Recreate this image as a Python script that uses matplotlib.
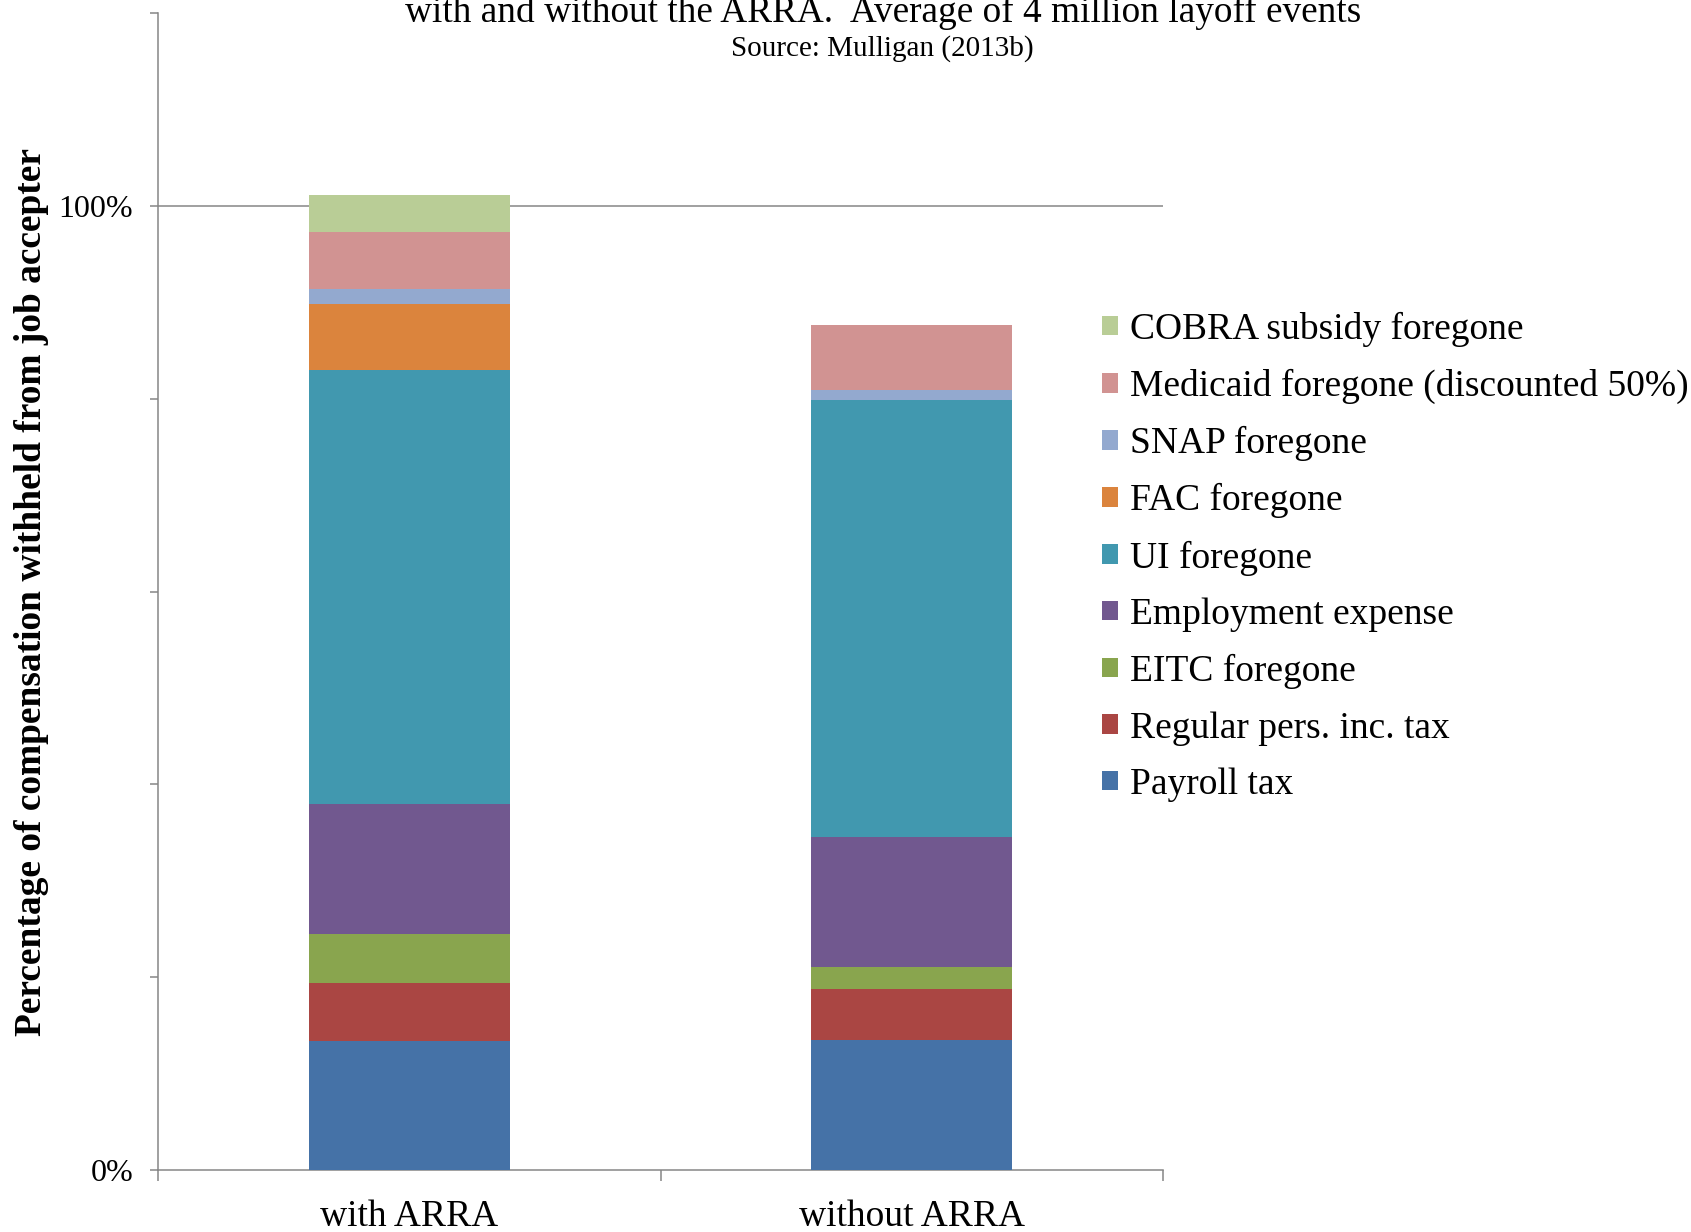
import matplotlib
matplotlib.use("Agg")
import matplotlib.pyplot as plt
from matplotlib.patches import Patch

plt.rcParams['font.family'] = ['Liberation Serif', 'DejaVu Serif']

categories = ["with ARRA", "without ARRA"]
series_names = ["Payroll tax", "Regular pers. inc. tax", "EITC foregone",
                "Employment expense", "UI foregone", "FAC foregone",
                "SNAP foregone", "Medicaid foregone (discounted 50%)",
                "COBRA subsidy foregone"]
payroll = [13.4, 13.5]
regular_tax = [6.0, 5.3]
eitc = [5.1, 2.25]
employment = [13.5, 13.5]
ui = [45.0, 45.3]
fac = [6.8, 0.0]
snap = [1.6, 1.0]
medicaid = [5.85, 6.8]
cobra = [3.85, 0.0]
series = [payroll, regular_tax, eitc, employment, ui, fac, snap, medicaid, cobra]
colors = ["#4572A7", "#AA4643", "#89A54E", "#71588F", "#4198AF",
          "#DB843D", "#93A9CF", "#D19392", "#B9CD96"]

fig = plt.figure(figsize=(16.91, 12.32), dpi=100)
ax = fig.add_axes([158/1691, 1-1170/1232, (1163-158)/1691, (1170-13)/1232])

x = list(range(len(categories)))
bottom = [0.0]*len(categories)
for vals, c in zip(series, colors):
    ax.bar(x, vals, width=0.4, bottom=bottom, color=c, edgecolor='none', zorder=3)
    bottom = [b+v for b, v in zip(bottom, vals)]

gray = "#868686"
ax.set_xlim(-0.5, 1.5)
ax.set_ylim(0, 120)
ax.plot([-0.5, 1.5], [100, 100], color=gray, lw=1.1, zorder=2)
for s in ['top', 'right']:
    ax.spines[s].set_visible(False)
for s in ['left', 'bottom']:
    ax.spines[s].set_color(gray)
    ax.spines[s].set_linewidth(1.1)

ax.set_yticks([0, 20, 40, 60, 80, 100, 120])
ax.set_yticklabels(["0%", "", "", "", "", "100%", ""])
ax.tick_params(axis='y', length=6, width=1.1, color=gray, pad=12, labelsize=23)
ax.set_xticks([-0.5, 0.5, 1.5])
ax.set_xticklabels([])
ax.set_xticks(x, minor=True)
ax.set_xticklabels(categories, minor=True)
ax.tick_params(axis='x', which='major', length=8, width=1.1, color=gray, direction='out')
ax.tick_params(axis='x', which='minor', length=0, pad=21, labelsize=27)

ax.set_ylabel("Percentage of compensation withheld from job accepter",
              fontsize=26.9, fontweight='bold')
ax.yaxis.set_label_coords(-0.108, 0.5)

fig.text(0.522, 1-22/1232, "with and without the ARRA.  Average of 4 million layoff events",
         ha='center', va='baseline', fontsize=26.8)
fig.text(0.522, 1-56/1232, "Source: Mulligan (2013b)", ha='center', va='baseline', fontsize=21)

handles = [Patch(facecolor=c, edgecolor='none') for c in colors][::-1]
labels = series_names[::-1]
leg = fig.legend(handles, labels, loc='upper left',
                 bbox_to_anchor=(1102/1691, 1-312/1232), frameon=False,
                 fontsize=27, handlelength=0.42, handleheight=0.42,
                 handletextpad=0.33, labelspacing=0.585, borderaxespad=0, borderpad=0)

fig.savefig("out.png", dpi=100)
